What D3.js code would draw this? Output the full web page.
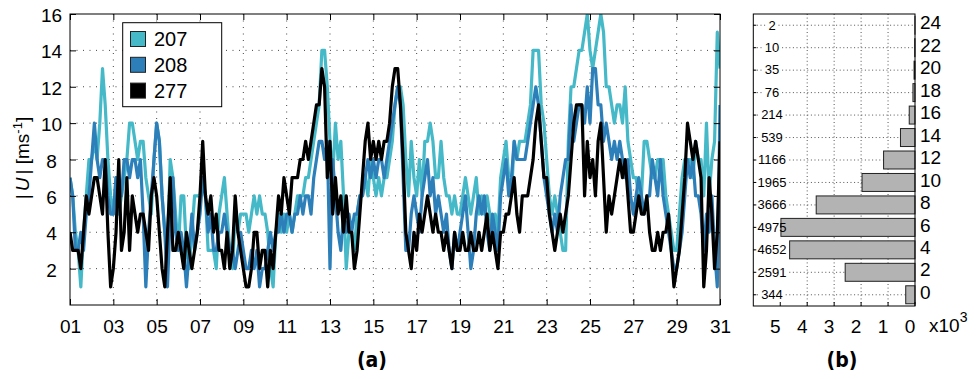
<!DOCTYPE html>
<html>
<head>
<meta charset="utf-8">
<script src="https://cdn.jsdelivr.net/npm/d3@7"></script>
<style>
  body { margin: 0; background: #fff; }
  svg { display: block; }
  text { font-family: "Liberation Sans", Arial, Helvetica, sans-serif; fill: #000; }
  .panel-tag { font-family: "Liberation Sans Narrow", "DejaVu Sans Condensed", "Liberation Sans", sans-serif; font-weight: bold; font-stretch: condensed; }
</style>
</head>
<body>
<svg id="chart" width="978" height="379"></svg>
<script>
// ---- data -------------------------------------------------------------
// wind speed |U| sampled every 3 hours from day 01 to day 31 (8 samples per day)
const samplesPerDay = 8;
const firstDay = 1;

const series207 = [
  7,6,4,3,1,4,6,8,   8,9,8,10,13,11,8,6,   5,7,5,6,7,8,10,10,   9,8,9,9,7,6,5,8,
  10,9,6,4,3,8,7,5,  3,6,6,3,2,4,6,6,      6,7,6,3,3,3,2,5,     6,7,5,3,2,5,4,5,
  5,5,4,5,6,5,6,5,   5,4,2,1,4,5,4,5,      4,5,4,5,6,6,6,7,     7,8,9,10,11,14,14,12,
  9,7,10,8,9,6,2,4,  4,3,5,6,6,7,6,8,      7,6,7,6,7,7,8,9,     11,12,12,11,8,6,9,7,
  6,8,6,9,9,10,9,7,  7,9,7,6,6,5,6,5,      5,6,7,6,5,6,7,5,     6,5,6,5,4,5,4,7,
  8,9,7,6,9,8,9,9,   9,10,11,14,14,14,11,10, 8,6,5,6,5,4,3,3,   9,12,12,13,14,14,15,16,
  14,13,14,15,16,15,12,12, 11,10,11,11,10,12,9,8, 7,7,6,6,9,9,8,7, 7,8,8,8,6,5,4,3,
  3,5,7,8,8,8,7,9,   8,8,6,10,6,8,9,15,
  13
];
const series208 = [
  7,6,3,3,4,3,5,6,   8,10,8,7,8,8,6,5,     5,7,6,6,8,8,7,8,     8,7,8,5,1,4,6,8,
  10,9,6,4,1,5,7,4,  3,4,3,1,3,5,3,4,      5,7,6,4,5,3,3,4,     4,5,4,3,3,2,3,4,
  3,2,2,3,2,3,1,2,   2,3,4,3,4,4,5,4,      5,5,4,5,5,6,5,6,     6,5,7,8,9,9,8,9,
  2,8,6,4,3,5,4,5,   4,5,5,6,6,7,8,7,      8,7,8,8,7,8,9,10,    11,12,11,7,3,3,5,6,
  5,4,6,7,8,6,7,5,   6,5,4,5,3,2,4,3,      4,5,6,4,2,3,5,6,     5,6,4,3,5,4,3,6,
  7,8,6,7,9,8,8,8,   8,9,10,11,12,11,9,7,  6,5,4,5,4,6,7,8,     8,11,9,10,11,11,10,12,
  10,13,13,11,11,9,10,9, 8,9,8,9,8,7,8,6,  5,6,7,6,5,6,6,8,     7,6,8,6,5,4,3,2,
  2,3,4,6,8,7,8,6,   6,5,3,5,4,6,3,1,
  11
];
const series277 = [
  4,3,3,3,2,4,6,5,   6,7,7,6,5,8,4,1,      2,4,8,3,4,7,3,6,     5,4,5,5,4,3,6,7,
  6,4,2,1,4,7,3,3,   4,3,2,4,3,2,3,4,      6,9,6,5,6,4,5,3,     3,2,4,2,3,6,4,3,
  2,1,1,2,4,4,2,3,   3,1,3,2,4,6,5,7,      6,5,7,7,7,8,8,9,     8,9,10,11,11,13,12,7,
  9,5,7,5,6,4,6,4,   4,2,3,5,7,9,10,8,     9,8,9,8,9,9,10,12,   13,13,11,8,4,3,2,4,
  3,5,4,5,6,5,4,5,   4,4,3,4,3,2,4,3,      3,4,3,3,4,3,3,4,     3,4,5,3,4,3,2,4,
  4,5,5,6,7,5,4,6,   6,6,7,8,10,11,9,7,    7,5,4,3,4,5,4,5,     6,8,10,11,11,11,6,9,
  7,8,6,9,10,7,4,6,  5,6,7,8,7,8,6,4,      4,5,6,5,5,6,4,3,     3,4,3,4,4,5,3,1,
  2,3,5,7,10,9,8,9,  8,7,1,3,7,5,2,4,
  9
];
const seriesNames = ["207", "208", "277"];
const seriesColors = ["#45b9c7", "#2c7fb8", "#000000"];

const dayTicks = [1, 3, 5, 7, 9, 11, 13, 15, 17, 19, 21, 23, 25, 27, 29, 31];
const dayTickLabels = ["01","03","05","07","09","11","13","15","17","19","21","23","25","27","29","31"];
const speedTicks = [2, 4, 6, 8, 10, 12, 14, 16];

// histogram of |U| over the full record
const binCenters = [0, 2, 4, 6, 8, 10, 12, 14, 16, 18, 20, 22, 24];
const binCounts  = [344, 2591, 4652, 4975, 3666, 1965, 1166, 539, 214, 76, 35, 10, 2];
const countTicks = [5000, 4000, 3000, 2000, 1000, 0];
const countTickLabels = ["5", "4", "3", "2", "1", "0"];

// ---- layout -----------------------------------------------------------
const svg = d3.select("#chart");
const A = { left: 70, right: 720, top: 14, bottom: 305 };
const B = { left: 753.3, right: 915, top: 14, bottom: 306 };
const dotted = "1,5.5";

const x = d3.scaleLinear().domain([1, 31]).range([A.left, A.right]);
const y = d3.scaleLinear().domain([0, 16]).range([A.bottom, A.top]);

// ---- panel (a): time series ------------------------------------------
const gA = svg.append("g");

// grid
gA.append("g").selectAll("line")
  .data(dayTicks.slice(1, -1)).join("line")
  .attr("x1", d => x(d)).attr("x2", d => x(d))
  .attr("y1", A.top).attr("y2", A.bottom)
  .attr("stroke", "#444").attr("stroke-width", 1).attr("stroke-dasharray", dotted);
gA.append("g").selectAll("line")
  .data(speedTicks.slice(0, -1)).join("line")
  .attr("x1", A.left).attr("x2", A.right)
  .attr("y1", d => y(d)).attr("y2", d => y(d))
  .attr("stroke", "#444").attr("stroke-width", 1).attr("stroke-dasharray", dotted);

svg.append("clipPath").attr("id", "clipA")
  .append("rect").attr("x", A.left).attr("y", A.top)
  .attr("width", A.right - A.left).attr("height", A.bottom - A.top);

const line = d3.line()
  .x((d, i) => x(firstDay + i / samplesPerDay))
  .y(d => y(d));

[series207, series208, series277].forEach((s, k) => {
  gA.append("path")
    .datum(s)
    .attr("clip-path", "url(#clipA)")
    .attr("fill", "none")
    .attr("stroke", seriesColors[k])
    .attr("stroke-width", 3.2)
    .attr("stroke-linejoin", "round")
    .attr("d", line);
});

// axes (ticks point inward)
const xAxis = d3.axisBottom(x).tickValues(dayTicks)
  .tickFormat((d, i) => dayTickLabels[i]).tickSizeInner(-6).tickSizeOuter(0).tickPadding(14.5);
const gx = gA.append("g").attr("transform", `translate(0,${A.bottom})`).call(xAxis);
gx.selectAll("text").attr("font-size", 19).style("font-family", "Liberation Sans, Arial, sans-serif");

gA.append("g").attr("transform", `translate(0,${A.top})`)
  .call(d3.axisTop(x).tickValues(dayTicks).tickSizeInner(-6).tickSizeOuter(0).tickFormat(""));

const yAxis = d3.axisLeft(y).tickValues(speedTicks).tickSizeInner(-6).tickSizeOuter(0);
const gy = gA.append("g").attr("transform", `translate(${A.left},0)`).call(yAxis);
gy.selectAll("text").attr("font-size", 19).attr("text-anchor", "middle")
  .attr("x", -18.5).attr("dy", "0.4em").style("font-family", "Liberation Sans, Arial, sans-serif");

gA.append("g").attr("transform", `translate(${A.right},0)`)
  .call(d3.axisRight(y).tickValues(speedTicks).tickSizeInner(-6).tickSizeOuter(0).tickFormat(""));

gA.selectAll(".domain").remove();
gA.selectAll(".tick line").attr("stroke", "#000");
gA.append("rect").attr("x", A.left).attr("y", A.top)
  .attr("width", A.right - A.left).attr("height", A.bottom - A.top)
  .attr("fill", "none").attr("stroke", "#000").attr("stroke-width", 1);

// y label
const yl = svg.append("text")
  .attr("transform", `translate(29,158) rotate(-90)`)
  .attr("text-anchor", "middle").attr("font-size", 19);
yl.append("tspan").text("|");
yl.append("tspan").attr("font-style", "italic").attr("dx", 3).text("U");
yl.append("tspan").attr("dx", 3).text("| [ms");
yl.append("tspan").attr("font-size", 13).attr("dy", -7).text("-1");
yl.append("tspan").attr("dy", 7).text("]");

// legend
const leg = svg.append("g");
leg.append("rect").attr("x", 122.7).attr("y", 22.7).attr("width", 99).attr("height", 84)
  .attr("fill", "#fff").attr("stroke", "#000").attr("stroke-width", 1);
seriesNames.forEach((name, k) => {
  const cy = 39 + k * 25.8;
  leg.append("rect").attr("x", 130.5).attr("y", cy - 7.5).attr("width", 15).attr("height", 15)
    .attr("fill", seriesColors[k]).attr("stroke", "#222").attr("stroke-width", 1);
  leg.append("text").attr("x", 154).attr("y", cy + 7).attr("font-size", 20).text(name);
});

svg.append("text").attr("class", "panel-tag")
  .attr("x", 372).attr("y", 367).attr("text-anchor", "middle").attr("font-size", 21).text("(a)");

// ---- panel (b): histogram --------------------------------------------
const hx = d3.scaleLinear().domain([6000, 0]).range([B.left, B.right]);
const hy = d3.scaleLinear().domain([-1, 25]).range([B.bottom, B.top]);
const gB = svg.append("g");
const hDotted = "1,2.6";

gB.append("g").selectAll("line")
  .data(countTicks.filter(c => c > 0 && c < 5000)).join("line")
  .attr("x1", d => hx(d)).attr("x2", d => hx(d))
  .attr("y1", B.top).attr("y2", B.bottom)
  .attr("stroke", "#555").attr("stroke-dasharray", hDotted);
gB.append("g").selectAll("line")
  .data(binCenters).join("line")
  .attr("x1", B.left).attr("x2", B.right)
  .attr("y1", d => hy(d)).attr("y2", d => hy(d))
  .attr("stroke", "#555").attr("stroke-dasharray", hDotted);

// white patches under the count labels, then bars, then the labels on top
const patchG = gB.append("g");
const barG = gB.append("g");
const labelG = gB.append("g");
const labelX = 772;

const cl = labelG.selectAll("text")
  .data(binCenters).join("text")
  .attr("x", labelX).attr("y", d => hy(d)).attr("dy", "0.33em")
  .attr("text-anchor", "middle").attr("font-size", 13)
  .text((d, i) => binCounts[i]);
const widths = cl.nodes().map(n => n.getComputedTextLength());

patchG.selectAll("rect")
  .data(binCenters).join("rect")
  .attr("x", (d, i) => labelX - widths[i] / 2 - 1.5)
  .attr("y", d => hy(d) - 6)
  .attr("width", (d, i) => widths[i] + 3)
  .attr("height", 12)
  .attr("fill", "#fff");

barG.selectAll("rect")
  .data(binCenters).join("rect")
  .attr("x", (d, i) => hx(binCounts[i]))
  .attr("width", (d, i) => hx(0) - hx(binCounts[i]))
  .attr("y", d => hy(d + 0.8))
  .attr("height", d => hy(d - 0.8) - hy(d + 0.8))
  .attr("fill", "#b3b3b3").attr("stroke", "#222").attr("stroke-width", 1);

// small inward ticks
gB.append("g").selectAll("line")
  .data(binCenters).join("line")
  .attr("x1", B.left).attr("x2", B.left + 3)
  .attr("y1", d => hy(d)).attr("y2", d => hy(d)).attr("stroke", "#000");
gB.append("g").selectAll("line")
  .data(countTicks).join("line")
  .attr("x1", d => hx(d)).attr("x2", d => hx(d))
  .attr("y1", B.bottom).attr("y2", B.bottom - 4).attr("stroke", "#000");

gB.append("rect").attr("x", B.left).attr("y", B.top)
  .attr("width", B.right - B.left).attr("height", B.bottom - B.top)
  .attr("fill", "none").attr("stroke", "#000").attr("stroke-width", 1);

// right-hand speed labels
gB.append("g").selectAll("text")
  .data(binCenters).join("text")
  .attr("x", B.right + 5).attr("y", d => hy(d)).attr("dy", "0.22em")
  .attr("font-size", 19).text(d => d);

// count axis labels (thousands)
gB.append("g").selectAll("text")
  .data(countTicks).join("text")
  .attr("x", d => hx(d) - 5).attr("y", 333)
  .attr("text-anchor", "middle").attr("font-size", 19)
  .text((d, i) => countTickLabels[i]);
const mult = gB.append("text").attr("x", 929).attr("y", 332).attr("font-size", 19);
mult.append("tspan").text("x10");
mult.append("tspan").attr("font-size", 14).attr("dy", -10).text("3");

svg.append("text").attr("class", "panel-tag")
  .attr("x", 842).attr("y", 367).attr("text-anchor", "middle").attr("font-size", 21).text("(b)");
</script>
</body>
</html>
